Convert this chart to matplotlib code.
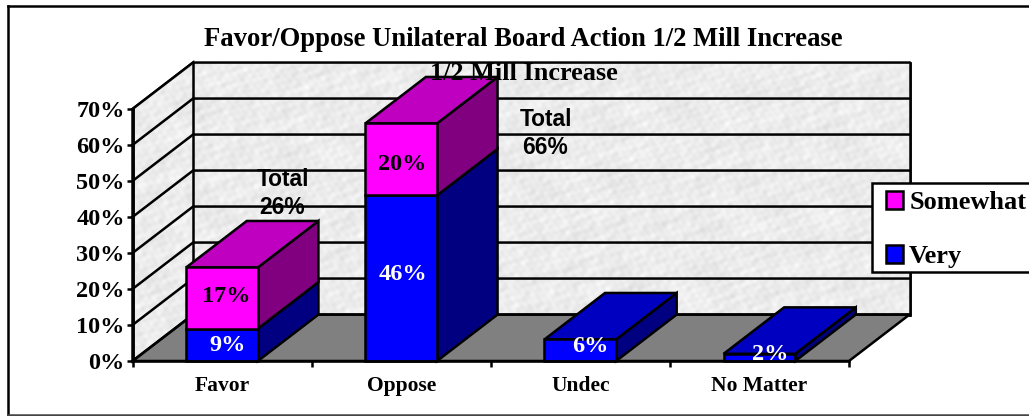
import numpy as np
import matplotlib
matplotlib.use("Agg")
import matplotlib.pyplot as plt
from matplotlib.patches import Patch, Polygon, Rectangle
from matplotlib.lines import Line2D

categories = ["Favor", "Oppose", "Undec", "No Matter"]
very = [9, 46, 6, 2]
somewhat = [17, 20, 0, 0]
y_ticks = [0, 10, 20, 30, 40, 50, 60, 70]
very_labels = ["9%", "46%", "6%", "2%"]
somewhat_labels = ["17%", "20%", "", ""]

# label nudges from the default bar-segment centre, in pixels
very_nudge = [(6, -1), (2, 4), (10, 4), (11, 3)]
somewhat_nudge = [(4, 1), (1, -5), (0, 0), (0, 0)]

W, H = 1029, 416
DX, DY = 0.338, 12.9   # 3-D depth in data units
BAR_W = 0.40
LW = 1.8
SERIF = "Liberation Serif"
SANS = "Liberation Sans"

fig = plt.figure(figsize=(W / 100, H / 100), dpi=100, facecolor="white")
ax = fig.add_axes([132.5 / W, 1 - 361 / H, (849 - 132.5) / W, (361 - 109) / H])
ax.patch.set_visible(False)


def poly(pts, fc, z):
    p = Polygon(pts, closed=True, facecolor=fc, edgecolor="black", linewidth=LW,
                joinstyle="miter", clip_on=False, zorder=z)
    ax.add_patch(p)
    return p


n = len(categories)
ymax = y_ticks[-1]

# mottled wall texture
xx, yy = np.meshgrid(np.arange(800), np.arange(300))
tex = np.zeros(xx.shape)
for k, (fx, fy, ph) in enumerate([(.31, .17, 0), (.13, -.41, 1), (.47, -.29, 2), (-.23, .53, 3),
                                  (.61, .11, 4), (.07, -.19, 5), (.11, .05, 6), (-.37, .67, 7),
                                  (.71, -.43, 8), (.03, .09, 9), (.83, .59, 1.5), (-.19, .91, 2.5)]):
    tex += np.sin(fx * xx + fy * yy + ph + 2.5 * np.sin(.023 * xx - .037 * yy + k))
tex = 0.925 + 0.016 * tex / 2.4

back = poly([(DX, DY), (n + DX, DY), (n + DX, ymax + DY), (DX, ymax + DY)], "#ebebeb", 1)
side = poly([(0, 0), (DX, DY), (DX, ymax + DY), (0, ymax)], "#ebebeb", 1)
for patch in (back, side):
    im = ax.imshow(tex, extent=(0, n + DX, 0, ymax + DY), cmap="gray", vmin=0, vmax=1,
                   aspect="auto", origin="lower", zorder=1.5)
    im.set_clip_box(fig.bbox)
    im.set_clip_path(patch)
poly([(0, 0), (n, 0), (n + DX, DY), (DX, DY)], "#808080", 2)

for t in y_ticks:
    ax.plot([0, DX, n + DX], [t, t + DY, t + DY], color="black", lw=LW,
            clip_on=False, zorder=3, solid_joinstyle="miter")
ax.plot([DX, DX], [DY, ymax + DY], color="black", lw=LW, clip_on=False, zorder=3)
ax.plot([n + DX, n + DX], [DY, ymax + DY], color="black", lw=LW, clip_on=False, zorder=3)
ax.plot([0, 0], [0, ymax], color="black", lw=LW, clip_on=False, zorder=3)

xs = np.arange(n) + 0.5
z = 5
for x, v, s, vl, sl, vn, sn in zip(xs, very, somewhat, very_labels, somewhat_labels,
                                   very_nudge, somewhat_nudge):
    l, r = x - BAR_W / 2, x + BAR_W / 2
    tot = v + s
    ax.bar(x, v, BAR_W, color="#0000ff", edgecolor="black", linewidth=LW, zorder=z + 1, clip_on=False)
    poly([(r, 0), (r + DX, DY), (r + DX, v + DY), (r, v)], "#000080", z)
    if s:
        ax.bar(x, s, BAR_W, bottom=v, color="#ff00ff", edgecolor="black", linewidth=LW,
               zorder=z + 1, clip_on=False)
        poly([(r, v), (r + DX, v + DY), (r + DX, tot + DY), (r, tot)], "#800080", z)
        poly([(l, tot), (r, tot), (r + DX, tot + DY), (l + DX, tot + DY)], "#c000c0", z)
        ax.annotate(sl, (x, v + s / 2), xytext=sn, textcoords="offset pixels", ha="center",
                    va="center", family=SERIF, weight="bold", fontsize=17.5, color="black",
                    zorder=z + 2)
    else:
        poly([(l, tot), (r, tot), (r + DX, tot + DY), (l + DX, tot + DY)], "#0000c0", z)
    ax.annotate(vl, (x, v / 2), xytext=vn, textcoords="offset pixels", ha="center",
                va="center", family=SERIF, weight="bold", fontsize=17.5, color="white",
                zorder=z + 2, annotation_clip=False, clip_on=True)
    z += 3

ax.set_xlim(0, n)
ax.set_ylim(0, ymax)
for sp in ("top", "right"):
    ax.spines[sp].set_visible(False)
for sp in ("left", "bottom"):
    ax.spines[sp].set_linewidth(LW)
    ax.spines[sp].set_zorder(20)
ax.set_yticks(y_ticks)
ax.set_yticklabels([f"{t}%" for t in y_ticks], family=SERIF, weight="bold", fontsize=17.5)
ax.set_xticks(np.arange(n + 1))
ax.set_xticklabels([""] * (n + 1))
ax.tick_params(axis="both", width=LW, length=4.5, pad=1)
ax.set_xticks(xs, minor=True)
ax.set_xticklabels(categories, minor=True, family=SERIF, weight="bold", fontsize=15.5)
ax.tick_params(axis="x", which="minor", length=0, pad=11)


def ftext(x, y, s, **kw):
    fig.text(x / W, 1 - y / H, s, ha="center", va="center", **kw)


ftext(523, 39, "Favor/Oppose Unilateral Board Action 1/2 Mill Increase", family=SERIF,
      weight="bold", fontsize=19.2)
ftext(524, 74, "1/2 Mill Increase", family=SERIF, weight="bold", fontsize=18.9)
ftext(283, 180, "Total", family=SANS, weight="bold", fontsize=16.4)
ftext(282, 208, "26%", family=SANS, weight="bold", fontsize=16.4)
ftext(546, 119, "Total", family=SANS, weight="bold", fontsize=16.4)
ftext(545, 148, "66%", family=SANS, weight="bold", fontsize=16.4)

# legend box runs past the right edge of the picture
fig.add_artist(Rectangle((872 / W, 1 - 272 / H), 200 / W, 89 / H, transform=fig.transFigure,
                         facecolor="white", edgecolor="black", linewidth=LW, zorder=4))
handles = [Patch(facecolor="#ff00ff", edgecolor="black", linewidth=LW, label="Somewhat"),
           Patch(facecolor="#0000ff", edgecolor="black", linewidth=LW, label="Very")]
fig.legend(handles=handles, loc="upper left", bbox_to_anchor=(886 / W, 1 - 191 / H),
           bbox_transform=fig.transFigure, borderaxespad=0, frameon=False, handlelength=0.66,
           handleheight=0.66, handletextpad=0.22, labelspacing=1.16, borderpad=0,
           prop={"family": SERIF, "weight": "bold", "size": 19})

# outer chart frame
for xd, yd, c in [((8, 8), (6, 415), "black"), ((8, W), (6, 6), "black"), ((8, W), (415, 415), "#444444")]:
    fig.add_artist(Line2D([x / W for x in xd], [1 - y / H for y in yd], color=c, lw=LW))

fig.savefig("out.png", dpi=100)
